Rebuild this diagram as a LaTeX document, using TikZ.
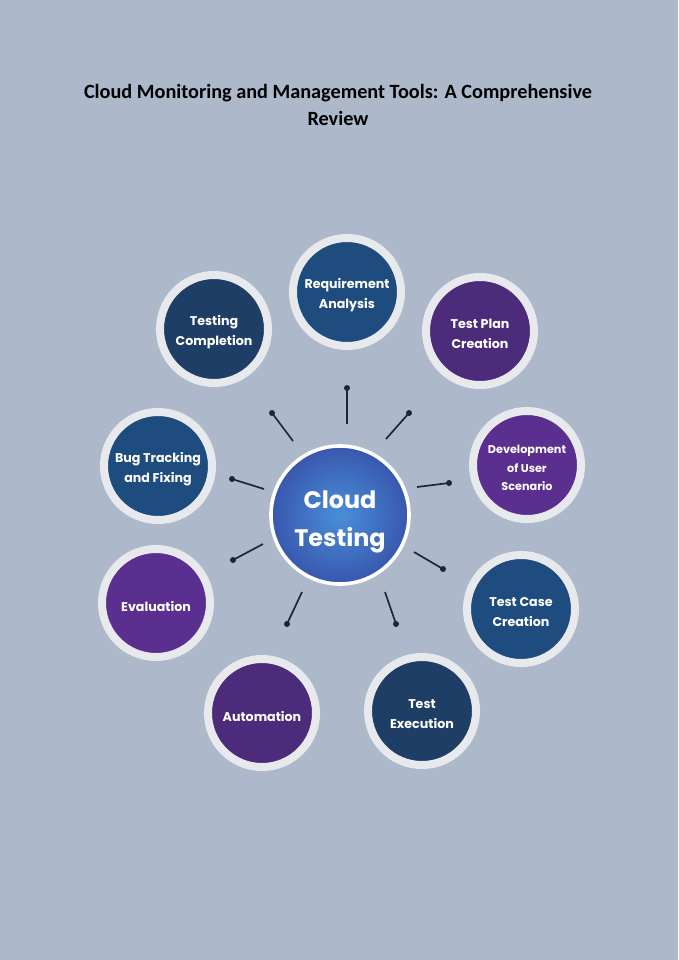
\documentclass[tikz,border=0pt]{standalone}
\usepackage{fontspec}
\setmainfont{Carlito}
\newfontfamily\roundfont{Poppins}
\usetikzlibrary{positioning}
\definecolor{pagebg}{HTML}{ADB9CA}
\definecolor{ringgray}{HTML}{E8E9ED}
\definecolor{stblue}{HTML}{1E4C7F}
\definecolor{stnavy}{HTML}{1F3E66}
\definecolor{stplum}{HTML}{4C2B7B}
\definecolor{stviolet}{HTML}{5A2F8F}
\definecolor{glowin}{HTML}{4A8FD8}
\definecolor{glowout}{HTML}{2A2D8C}
\definecolor{spokeink}{HTML}{1E2633}
\pgfdeclareradialshading{cloudglow}{\pgfpoint{0bp}{0bp}}{color(0bp)=(glowin); color(44bp)=(glowout); color(50bp)=(glowout)}

\begin{document}
\begin{tikzpicture}[
  x=0.025cm, y=-0.025cm,
  stage/.style={circle, draw=ringgray, line width=0.2cm, minimum size=2.7cm, inner sep=0pt},
  stagetxt/.style={align=center, text=white, yshift=-2.2pt, font=\roundfont\bfseries\fontsize{9}{14}\selectfont},
  hub/.style={circle, draw=white, line width=0.09cm, minimum size=3.45cm, shading=cloudglow},
  hubtxt/.style={align=center, text=white, yshift=-5pt, font=\roundfont\bfseries\fontsize{17}{27}\selectfont},
  spoke/.style={draw=spokeink, line width=1.2pt},
  tip/.style={circle, fill=spokeink, inner sep=0pt, minimum size=0.15cm}
]
\fill[pagebg] (0,0) rectangle (678,960);

\node[font=\bfseries\fontsize{14.4}{19.5}\selectfont, align=center] (title) at (338,105)
  {Cloud Monitoring and Management Tools: A Comprehensive\\Review};

\node[hub, label={[hubtxt]center:Cloud\\Testing}] (cloud) at (340,515) {};

\node[stage, fill=stblue, label={[stagetxt]center:Requirement\\Analysis}] (req) at (347,292) {};
\node[stage, fill=stplum, label={[stagetxt]center:Test Plan\\Creation}] (plan) at (480,331) {};
\node[stage, fill=stviolet, label={[stagetxt, font=\roundfont\bfseries\fontsize{8}{13}\selectfont]center:Development\\of User\\Scenario}] (dev) at (527,465) {};
\node[stage, fill=stblue, label={[stagetxt]center:Test Case\\Creation}] (case) at (521,609) {};
\node[stage, fill=stnavy, label={[stagetxt]center:Test\\Execution}] (exec) at (422,711) {};
\node[stage, fill=stplum, label={[stagetxt]center:Automation}] (auto) at (262,713) {};
\node[stage, fill=stviolet, label={[stagetxt]center:Evaluation}] (eval) at (156,603) {};
\node[stage, fill=stblue, label={[stagetxt]center:Bug Tracking\\and Fixing}] (bug) at (158,466) {};
\node[stage, fill=stnavy, label={[stagetxt]center:Testing\\Completion}] (done) at (214,329) {};

% spokes round the hub
\coordinate (s1) at (347,424); \node[tip] (d1) at (347,388) {};
\coordinate (s2) at (293,441); \node[tip] (d2) at (272,413) {};
\coordinate (s3) at (386,439); \node[tip] (d3) at (409,413) {};
\coordinate (s4) at (264,489); \node[tip] (d4) at (232,479) {};
\coordinate (s5) at (417,487); \node[tip] (d5) at (449,483) {};
\coordinate (s6) at (263,544); \node[tip] (d6) at (233,560) {};
\coordinate (s7) at (414,552); \node[tip] (d7) at (443,569) {};
\coordinate (s8) at (302,592); \node[tip] (d8) at (287,624) {};
\coordinate (s9) at (385,592); \node[tip] (d9) at (396,624) {};

\draw[spoke] (s1)--(d1.center); \draw[spoke] (s2)--(d2.center); \draw[spoke] (s3)--(d3.center);
\draw[spoke] (s4)--(d4.center); \draw[spoke] (s5)--(d5.center); \draw[spoke] (s6)--(d6.center);
\draw[spoke] (s7)--(d7.center); \draw[spoke] (s8)--(d8.center); \draw[spoke] (s9)--(d9.center);
\end{tikzpicture}
\end{document}
